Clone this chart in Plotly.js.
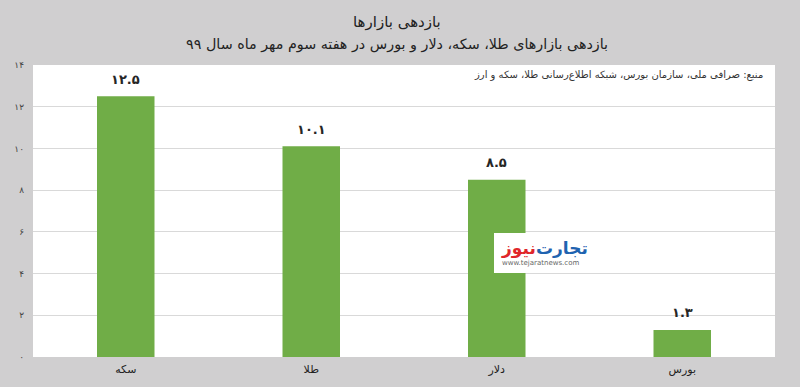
<!DOCTYPE html>
<html><head><meta charset="utf-8">
<script src="https://cdn.plot.ly/plotly-3.0.1.min.js"></script>
<style>html,body{margin:0;padding:0;background:#d0cfd0;}#chart{width:800px;height:387px;}</style>
</head><body><div id="chart"></div>
<script>
const categories = ["سکه", "طلا", "دلار", "بورس"];
const returns = [12.5, 10.1, 8.5, 1.3];
const valueLabels = ["۱۲.۵", "۱۰.۱", "۸.۵", "۱.۳"];
const yTickVals = [0, 2, 4, 6, 8, 10, 12, 14];
const yTickText = ["۰", "۲", "۴", "۶", "۸", "۱۰", "۱۲", "۱۴"];
const titleText = "بازدهی بازارها";
const subtitleText = "بازدهی بازارهای طلا، سکه، دلار و بورس در هفته سوم مهر ماه سال ۹۹";
const sourceText = "منبع: صرافی ملی، سازمان بورس، شبکه اطلاع‌رسانی طلا، سکه و ارز";

const FONT = "DejaVu Sans, Noto Sans, sans-serif";

const trace = {
  type: "bar",
  x: categories,
  y: returns,
  marker: {color: "#70ad47"},
  hoverinfo: "none"
};

const valueAnnotations = categories.map((c, i) => ({
  x: c, y: returns[i], xref: "x", yref: "y",
  text: valueLabels[i], showarrow: false,
  yanchor: "middle", yshift: 17,
  font: {family: FONT, size: 13, color: "#262626", weight: 600}
}));

const layout = {
  width: 800, height: 387,
  margin: {l: 33, r: 25, t: 65, b: 30},
  paper_bgcolor: "#d0cfd0",
  plot_bgcolor: "#ffffff",
  bargap: 0.69,
  showlegend: false,
  font: {family: FONT, color: "#333333"},
  xaxis: {
    showgrid: false, zeroline: false, showline: false, ticks: "",
    tickfont: {family: FONT, size: 11, color: "#222222"},
    ticklabelstandoff: 4
  },
  yaxis: {
    range: [0, 14], tickvals: yTickVals, ticktext: yTickText,
    showgrid: true, gridcolor: "#d9d9d9", gridwidth: 1,
    zeroline: false, showline: false, ticks: "",
    tickfont: {family: FONT, size: 9, color: "#444444"},
    ticklabelstandoff: 8
  },
  annotations: valueAnnotations.concat([
    {text: titleText, xref: "paper", yref: "paper", x: 0.49, y: (387-22-30)/292, xanchor: "center", yanchor: "middle", showarrow: false, font: {family: FONT, size: 15, color: "#222222"}},
    {text: subtitleText, xref: "paper", yref: "paper", x: 0.49, y: (387-45-30)/292, xanchor: "center", yanchor: "middle", showarrow: false, font: {family: FONT, size: 14.3, color: "#222222"}},
    {text: sourceText, xref: "paper", yref: "paper", x: (765-33)/742, y: (357-75)/292, xanchor: "right", yanchor: "middle", showarrow: false, font: {family: FONT, size: 10, color: "#333333"}},
    {text: "تجارت", xref: "paper", yref: "paper", x: (562-33)/742, y: (357-248)/292, xanchor: "center", yanchor: "middle", showarrow: false, font: {family: FONT, size: 17, color: "#1f63b0", weight: "bold"}},
    {text: "نیوز", xref: "paper", yref: "paper", x: (518-33)/742, y: (357-248)/292, xanchor: "center", yanchor: "middle", showarrow: false, font: {family: FONT, size: 17, color: "#e0262b", weight: "bold"}},
    {text: "www.tejaratnews.com", xref: "paper", yref: "paper", x: (540-33)/742, y: (357-263)/292, xanchor: "center", yanchor: "middle", showarrow: false, font: {family: FONT, size: 7, color: "#666666"}}
  ]),
  shapes: [
    {type: "rect", xref: "paper", yref: "paper", x0: (494-33)/742, x1: (590-33)/742, y0: (357-273)/292, y1: (357-233)/292, fillcolor: "#ffffff", line: {width: 0}, layer: "above"}
  ]
};

Plotly.newPlot("chart", [trace], layout, {displayModeBar: false, staticPlot: true});
</script></body></html>
